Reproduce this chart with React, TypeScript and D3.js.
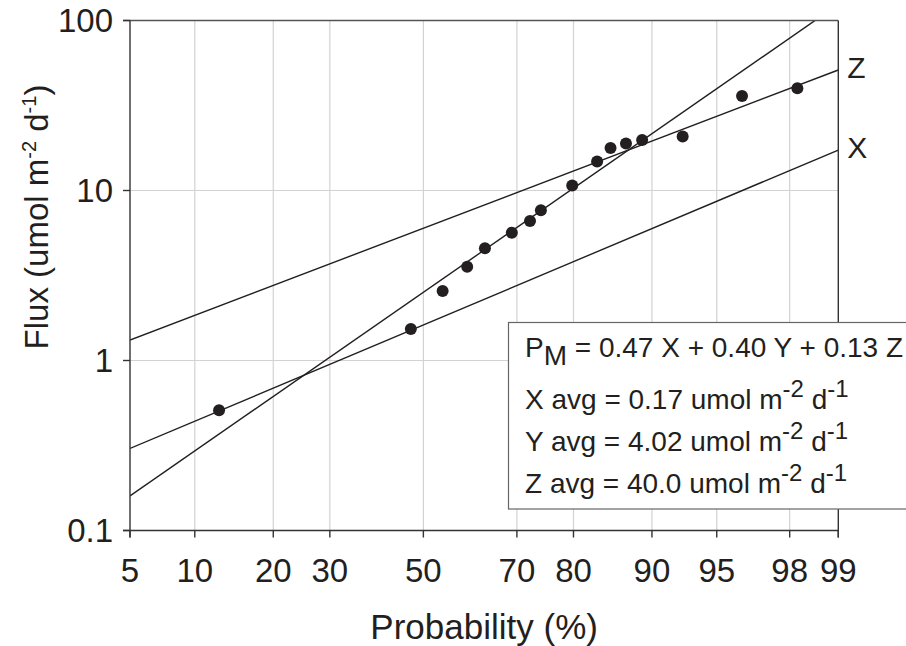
import React from "react";
import * as d3 from "d3";

// Observed fluxes against their cumulative probability (%)
const probabilities = [12.6, 47.2, 54.3, 59.7, 63.5, 69.0, 72.5, 74.5, 79.8, 83.5, 85.3, 87.2, 89.0, 92.7, 96.3, 98.2];
const fluxes = [0.51, 1.53, 2.56, 3.56, 4.57, 5.65, 6.62, 7.65, 10.7, 14.8, 17.8, 18.9, 19.8, 20.8, 36.0, 39.9];

// Lognormal component fits: flux at 50% and log10 standard deviation
const componentNames = ["X", "Y", "Z"];
const componentMedians = [1.62, 2.52, 6.0];
const componentLogSd = [0.442, 0.728, 0.4];
const labelledComponents = ["Z", "X"];

const xTicks = [5, 10, 20, 30, 50, 70, 80, 90, 95, 98, 99];
const xGrid = [10, 20, 30, 50, 70, 80, 90, 95, 98];
const yTicks = [0.1, 1, 10, 100];
const yTickLabels = ["0.1", "1", "10", "100"];
const yGrid = [1, 10];

const legendLines = [
  "= 0.47 X + 0.40 Y + 0.13 Z",
  "X avg = 0.17 umol m",
  "Y avg = 4.02 umol m",
  "Z avg = 40.0 umol m",
];

// Inverse standard normal CDF (Acklam's rational approximation)
function probit(p: number): number {
  const a = [-39.69683028665376, 220.9460984245205, -275.9285104469687, 138.357751867269, -30.66479806614716, 2.506628277459239];
  const b = [-54.47609879822406, 161.5858368580409, -155.6989798598866, 66.80131188771972, -13.28068155288572];
  const c = [-0.007784894002430293, -0.3223964580411365, -2.400758277161838, -2.549732539343734, 4.374664141464968, 2.938163982698783];
  const d = [0.007784695709041462, 0.3224671290700398, 2.445134137142996, 3.754408661907416];
  const pl = 0.02425;
  if (p < pl) {
    const q = Math.sqrt(-2 * Math.log(p));
    return (((((c[0] * q + c[1]) * q + c[2]) * q + c[3]) * q + c[4]) * q + c[5]) / ((((d[0] * q + d[1]) * q + d[2]) * q + d[3]) * q + 1);
  }
  if (p > 1 - pl) {
    const q = Math.sqrt(-2 * Math.log(1 - p));
    return -(((((c[0] * q + c[1]) * q + c[2]) * q + c[3]) * q + c[4]) * q + c[5]) / ((((d[0] * q + d[1]) * q + d[2]) * q + d[3]) * q + 1);
  }
  const q = p - 0.5;
  const r = q * q;
  return ((((((a[0] * r + a[1]) * r + a[2]) * r + a[3]) * r + a[4]) * r + a[5]) * q) / (((((b[0] * r + b[1]) * r + b[2]) * r + b[3]) * r + b[4]) * r + 1);
}

const W = 906;
const H = 646;
const left = 130;
const right = 838.3;
const top = 20.5;
const bottom = 530.5;

const FONT = "'Liberation Sans', Arial, Helvetica, sans-serif";
const INK = "#231f20";

export default function App() {
  const zScale = d3.scaleLinear().domain([probit(0.05), probit(0.99)]).range([left, right]);
  const x = (p: number) => zScale(probit(p / 100));
  const y = d3.scaleLog().domain([0.1, 100]).range([bottom, top]);

  const zMin = probit(0.05);
  const zMax = probit(0.99);

  const fitPaths = componentNames.map((name, i) => {
    const mu = Math.log10(componentMedians[i]);
    const sd = componentLogSd[i];
    const pts: [number, number][] = [zMin, zMax].map((z) => [zScale(z), y(Math.pow(10, mu + sd * z))]);
    return { name, d: d3.line()(pts) as string, end: pts[1] };
  });

  const legendSize = 28;
  const legendSup = 24;

  return (
    <svg width={W} height={H} style={{ position: "absolute", left: 0, top: 0, background: "#fff" }} fontFamily={FONT}>
      <defs>
        <clipPath id="plotArea">
          <rect x={left} y={top} width={right - left} height={bottom - top} />
        </clipPath>
      </defs>
      <rect width={W} height={H} fill="#fff" />

      {/* grid */}
      {xGrid.map((p) => (
        <line key={"gx" + p} x1={x(p)} x2={x(p)} y1={top} y2={bottom} stroke="#d2d2d2" strokeWidth={1.2} />
      ))}
      {yGrid.map((v) => (
        <line key={"gy" + v} x1={left} x2={right} y1={y(v)} y2={y(v)} stroke="#d2d2d2" strokeWidth={1.2} />
      ))}

      {/* fitted lognormal lines */}
      <g clipPath="url(#plotArea)">
        {fitPaths.map((f) => (
          <path key={f.name} d={f.d} fill="none" stroke={INK} strokeWidth={1.4} />
        ))}
      </g>

      {/* observations */}
      {probabilities.map((p, i) => (
        <circle key={"pt" + i} cx={x(p)} cy={y(fluxes[i])} r={6} fill={INK} />
      ))}

      {/* frame and axes */}
      <line x1={left - 7} x2={right} y1={top} y2={top} stroke="#555" strokeWidth={1.6} />
      <line x1={right} x2={right} y1={top} y2={bottom + 7} stroke="#333" strokeWidth={1.4} />
      <line x1={left - 7} x2={right} y1={bottom} y2={bottom} stroke="#333" strokeWidth={1.4} />
      <line x1={left} x2={left} y1={top} y2={bottom + 7} stroke="#333" strokeWidth={1.4} />

      {xTicks.map((p) => (
        <g key={"tx" + p}>
          <line x1={x(p)} x2={x(p)} y1={bottom} y2={bottom + 7} stroke="#333" strokeWidth={1.4} />
          <text x={x(p)} y={581.5} textAnchor="middle" fontSize={33} fill={INK}>
            {p}
          </text>
        </g>
      ))}
      {yTicks.map((v, i) => (
        <g key={"ty" + v}>
          <line x1={left - 7} x2={left} y1={y(v)} y2={y(v)} stroke="#333" strokeWidth={1.4} />
          <text x={113} y={y(v) + 11.8} textAnchor="end" fontSize={33} fill={INK}>
            {yTickLabels[i]}
          </text>
        </g>
      ))}

      {/* line labels */}
      {fitPaths
        .filter((f) => labelledComponents.includes(f.name))
        .map((f) => (
          <text key={"lab" + f.name} x={f.end[0] + 9} y={f.end[1] + 8} fontSize={30} fill={INK}>
            {f.name}
          </text>
        ))}

      {/* axis titles */}
      <text x={(left + right) / 2} y={639} textAnchor="middle" fontSize={35} fill={INK}>
        Probability (%)
      </text>
      <text transform="translate(48,217) rotate(-90)" textAnchor="middle" fontSize={33} fill={INK}>
        Flux (umol m<tspan dy={-12} fontSize={20}>-2</tspan>
        <tspan dy={12}> d</tspan>
        <tspan dy={-12} fontSize={20}>-1</tspan>
        <tspan dy={12}>)</tspan>
      </text>

      {/* mixture summary */}
      <rect x={508.5} y={322.5} width={420} height={186.5} fill="#fff" stroke="#666" strokeWidth={1.2} />
      <text x={525} y={357} fontSize={legendSize} fill={INK}>
        P<tspan dy={8}>M</tspan>
        <tspan dy={-8}> {legendLines[0]}</tspan>
      </text>
      {legendLines.slice(1).map((s, i) => (
        <text key={"leg" + i} x={525} y={409 + i * 42} fontSize={legendSize} fill={INK}>
          {s}
          <tspan dy={-12} fontSize={legendSup}>-2</tspan>
          <tspan dy={12}> d</tspan>
          <tspan dy={-12} fontSize={legendSup}>-1</tspan>
        </text>
      ))}
    </svg>
  );
}
